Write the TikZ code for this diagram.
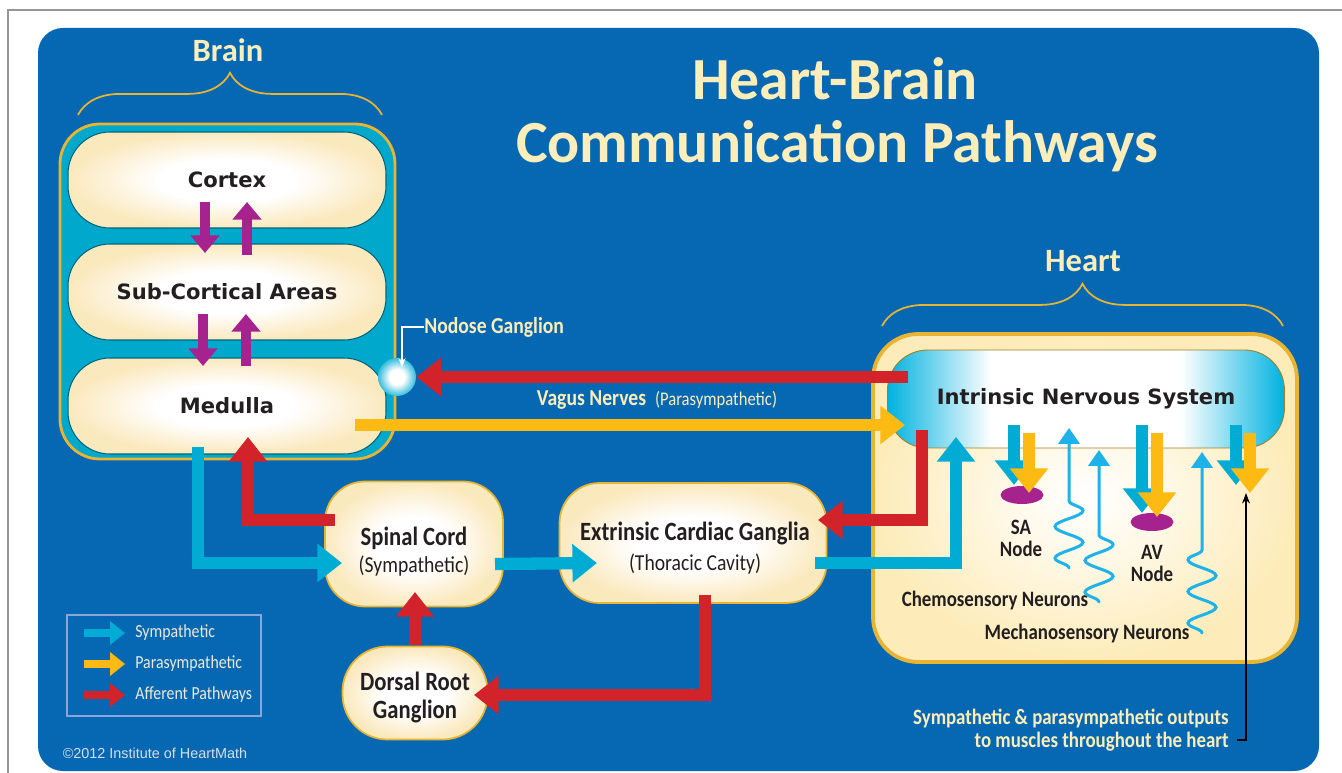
\documentclass[tikz,border=0pt]{standalone}
\usepackage{fontspec}
\setmainfont{Carlito}
\newfontfamily\condfont{Carlito}[FakeStretch=0.86]
\newfontfamily\verdfont{DejaVu Sans}
\newfontfamily\arialfont{Liberation Sans}
\usetikzlibrary{arrows.meta,calc,shapes.geometric,decorations.pathmorphing,decorations.pathreplacing}

\definecolor{bgblue}{RGB}{6,103,178}
\definecolor{cream}{RGB}{252,238,186}
\definecolor{brainteal}{RGB}{0,168,204}
\definecolor{gold}{RGB}{232,180,50}
\definecolor{symcol}{RGB}{0,172,212}
\definecolor{paracol}{RGB}{253,186,18}
\definecolor{affcol}{RGB}{210,35,42}
\definecolor{magarrow}{RGB}{166,34,143}
\definecolor{boxcream}{RGB}{251,233,190}
\definecolor{heartcream}{RGB}{253,236,185}
\definecolor{inscyan}{RGB}{0,178,224}
\definecolor{textdark}{RGB}{35,31,32}
\definecolor{nervecyan}{RGB}{30,178,232}
\definecolor{framegray}{RGB}{150,150,150}
\definecolor{legendline}{RGB}{140,165,215}
\definecolor{legendtext}{RGB}{236,233,218}
\definecolor{copygray}{RGB}{215,222,232}

\pgfdeclareradialshading{creamglow}{\pgfpoint{0bp}{0bp}}{color(0bp)=(white); color(11bp)=(white); color(25bp)=(boxcream); color(50bp)=(boxcream)}
\pgfdeclareradialshading{heartglow}{\pgfpoint{0bp}{0bp}}{color(0bp)=(white); color(8bp)=(white!70!heartcream); color(25bp)=(heartcream); color(50bp)=(heartcream)}
\pgfdeclarehorizontalshading{insglow}{100bp}{color(0bp)=(inscyan); color(25bp)=(inscyan); color(38bp)=(white); color(62bp)=(white); color(75bp)=(inscyan); color(100bp)=(inscyan)}
\pgfdeclareradialshading{bubbleglow}{\pgfpoint{0bp}{0bp}}{color(0bp)=(white); color(10bp)=(white); color(25bp)=(symcol!80); color(50bp)=(symcol!80)}

\tikzset{
  pathway/.style={line width=7pt, -{Triangle[width=21pt,length=14pt]}},
  sym/.style={pathway, draw=symcol},
  para/.style={pathway, draw=paracol},
  aff/.style={pathway, draw=affcol},
  brainlink/.style={line width=5.5pt, draw=magarrow, -{Triangle[width=16pt,length=10pt]}},
  nerve/.style={line width=1.7pt, draw=nervecyan, line cap=round, -{Triangle[width=12pt,length=9pt]}},
  wavy/.style={decoration={snake,amplitude=8pt,segment length=18pt}},
  bracebar/.style={draw=gold, line width=1pt, decorate, decoration={brace,amplitude=24pt}},
  brainbox/.style={shading=creamglow, draw=brainteal!60!black, line width=0.6pt,
    rounded corners=0.84cm, minimum width=6.36cm, minimum height=1.92cm, inner sep=0pt,
    text=textdark, font=\verdfont\bfseries\fontsize{12}{14}\selectfont},
  relay/.style={shading=creamglow, draw=gold, line width=1pt, rounded corners=0.8cm, inner sep=0pt},
  relaytitle/.style={anchor=base, inner sep=0pt, text=textdark, font=\condfont\bfseries\fontsize{15}{17}\selectfont},
  relaynote/.style={anchor=base, inner sep=0pt, text=textdark, font=\condfont\fontsize{13}{15}\selectfont},
  lighttext/.style={text=cream, inner sep=0pt},
  darktext/.style={text=textdark, inner sep=0pt, font=\condfont\bfseries\fontsize{12.5}{12.5}\selectfont},
  celltext/.style={darktext, anchor=base, font=\condfont\bfseries\fontsize{12.5}{12.5}\selectfont},
  heading/.style={lighttext, anchor=base, font=\bfseries\fontsize{18.5}{20}\selectfont},
  cell/.style={ellipse, fill=magarrow, minimum width=0.86cm, minimum height=0.36cm, inner sep=0pt}
}

\begin{document}
\begin{tikzpicture}[x=0.02cm,y=-0.02cm]
  \useasboundingbox (0,0) rectangle (1342,773);
  \fill[white] (0,0) rectangle (1342,773);
  \draw[framegray, line width=0.8pt] (8,773) -- (8,10) -- (1342,10);
  \fill[bgblue, rounded corners=0.5cm] (38,28) rectangle (1319,771);

  % title
  \node[lighttext, anchor=base, font=\bfseries\fontsize{34}{36}\selectfont] (title) at (835,100) {Heart-Brain};
  \node[lighttext, anchor=base, font=\bfseries\fontsize{34}{36}\selectfont] (subtitle) at (837,163) {Communication Pathways};

  % brain side
  \node[heading] (brainlbl) at (228,62) {Brain};
  \draw[bracebar] (78,115) -- (382,115);
  \draw[gold, line width=1.6pt, fill=brainteal, rounded corners=0.8cm] (60,124) rectangle (395,459);
  \node[brainbox] (cortex) at (227,180) {Cortex};
  \node[brainbox] (subcort) at (227,292) {Sub-Cortical Areas};
  \node[brainbox] (medulla) at (227,406) {Medulla};

  \draw[brainlink] ($(cortex)+(-22,22)$) -- ($(subcort)+(-22,-39)$);
  \draw[brainlink] ($(subcort)+(20,-37)$) -- ($(cortex)+(20,22)$);
  \draw[brainlink] ($(subcort)+(-24,22)$) -- ($(medulla)+(-24,-40)$);
  \draw[brainlink] ($(medulla)+(19,-40)$) -- ($(subcort)+(19,22)$);

  \node[circle, shading=bubbleglow, minimum size=0.76cm, inner sep=0pt] (nodose) at (397,377) {};
  \node[lighttext, anchor=west, font=\condfont\bfseries\fontsize{13}{15}\selectfont] (nodoselbl) at (424,327) {Nodose Ganglion};
  \draw[white, line width=1pt, -{Stealth[length=5pt,width=4pt]}] (nodoselbl.west) -| ($(nodose)+(5,-10)$);

  % heart side
  \node[heading] (heartlbl) at (1083,272) {Heart};
  \draw[bracebar] (882,326) -- (1283,326);
  \node[shading=heartglow, draw=gold, line width=2.2pt, rounded corners=0.9cm,
    minimum width=8.48cm, minimum height=6.56cm] (heart) at (1085,498) {};
  \node[shading=insglow, draw=gold!70!black, line width=0.5pt, rounded corners=0.8cm,
    minimum width=7.94cm, minimum height=1.96cm, text=textdark,
    font=\verdfont\bfseries\fontsize{12}{14}\selectfont] (ins) at (1086,399) {Intrinsic Nervous System};

  \node[cell] (sa) at (1022,495) {};
  \node[cell] (av) at (1152,522) {};
  \node[celltext] (sa1) at (1021,534) {SA};
  \node[celltext] (sa2) at (1021,556) {Node};
  \node[celltext] (av1) at (1152,559) {AV};
  \node[celltext] (av2) at (1152,581) {Node};
  \node[darktext] (chemo) at (995,601) {Chemosensory Neurons};
  \node[darktext] (mechano) at (1087,634) {Mechanosensory Neurons};

  \coordinate (outs) at (1246,493);
  \coordinate (w1t) at (1069,428);
  \coordinate (w1m) at (1069,500);
  \coordinate (w1b) at (1069,568);
  \coordinate (w2t) at (1099,450);
  \coordinate (w2m) at (1099,522);
  \coordinate (w2b) at (1099,602);
  \coordinate (w3t) at (1202,452);
  \coordinate (w3m) at (1202,535);
  \coordinate (w3b) at (1202,633);
  \draw[nerve] (w1b) decorate[wavy]{-- (w1m)} -- (w1t);
  \draw[nerve] (w2b) decorate[wavy]{-- (w2m)} -- (w2t);
  \draw[nerve] (w3b) decorate[wavy]{-- (w3m)} -- (w3t);

  \draw[sym] ($(ins)+(-72,26)$) -- ($(sa)+(-8,-10)$);
  \draw[para] ($(ins)+(-57,34)$) -- ($(sa)+(7,-2)$);
  \draw[sym] ($(ins)+(56,26)$) -- ($(av)+(-10,-9)$);
  \draw[para] ($(ins)+(71,34)$) -- ($(av)+(5,-5)$);
  \draw[sym] ($(ins)+(150,26)$) -- ($(outs)+(-10,-8)$);
  \draw[para] ($(ins)+(164,34)$) -- ($(outs)+(4,0)$);

  % relay stations
  \node[relay, minimum width=3.56cm, minimum height=2.5cm] (spinal) at (414,544) {};
  \node[relaytitle] (spinal1) at (414,545) {Spinal Cord};
  \node[relaynote] (spinal2) at (414,572) {(Sympathetic)};
  \node[relay, minimum width=5.34cm, minimum height=2.4cm] (extrinsic) at (693,543) {};
  \node[relaytitle] (extrinsic1) at (695,540) {Extrinsic Cardiac Ganglia};
  \node[relaynote] (extrinsic2) at (695,570) {(Thoracic Cavity)};
  \node[relay, rounded corners=0.9cm, minimum width=2.9cm, minimum height=1.86cm] (drg) at (415,693) {};
  \node[relaytitle] (drg1) at (415,690) {Dorsal Root};
  \node[relaytitle] (drg2) at (415,718) {Ganglion};

  % pathways
  \draw[sym] ($(medulla)+(-29,41)$) |- ($(spinal)+(-72,19)$);
  \draw[aff] ($(spinal)+(-79,-24)$) -| ($(medulla)+(21,31)$);
  \draw[sym] ($(spinal)+(81,20)$) -- ($(extrinsic)+(-96,20)$);
  \draw[aff] ($(drg)+(0,-48)$) -- ($(spinal)+(1,48)$);
  \draw[aff] ($(extrinsic)+(12,52)$) |- ($(drg)+(59,2)$);
  \draw[aff] ($(ins)+(-164,31)$) |- ($(extrinsic)+(125,-23)$);
  \draw[sym] ($(extrinsic)+(122,20)$) -| ($(ins)+(-130,38)$);
  \draw[aff] ($(ins)+(-178,-22)$) -- (nodose.east);
  \draw[para] ($(medulla)+(128,19)$) -- ($(ins)+(-181,26)$);
  \node[lighttext, font=\condfont\bfseries\fontsize{13}{15}\selectfont] (vagus) at (657,400)
    {Vagus Nerves\ \ {\mdseries\fontsize{11}{13}\selectfont (Parasympathetic)}};

  % outputs note
  \node[lighttext, anchor=east, align=right, font=\condfont\bfseries\fontsize{12.5}{12.8}\selectfont] (outnote) at (1229,730)
    {Sympathetic \& parasympathetic outputs\\to muscles throughout the heart};
  \draw[black, line width=0.8pt, -{Stealth[length=6pt,width=4.5pt]}] ($(outnote.east)+(8,10)$) -| (outs);

  % legend
  \node[draw=legendline, line width=0.8pt, minimum width=3.88cm, minimum height=2.02cm] (legend) at (164,665.5) {};
  \foreach \col/\txt [count=\i] in {symcol/Sympathetic, paracol/Parasympathetic, affcol/Afferent Pathways} {
    \coordinate (legA\i) at (84,{633+31*(\i-1)});
    \coordinate (legB\i) at (125,{633+31*(\i-1)});
    \draw[draw=\col, line width=4pt, -{Triangle[width=13pt,length=8.5pt]}] (legA\i) -- (legB\i);
    \node[anchor=west, text=legendtext, inner sep=0pt, font=\condfont\fontsize{10.5}{12}\selectfont] (leg\i) at (135,{633+31*(\i-1)}) {\txt};
  }
  \node[text=copygray, inner sep=0pt, font=\arialfont\fontsize{8.2}{10}\selectfont] (copy) at (155,753) {©2012 Institute of HeartMath};
\end{tikzpicture}
\end{document}
